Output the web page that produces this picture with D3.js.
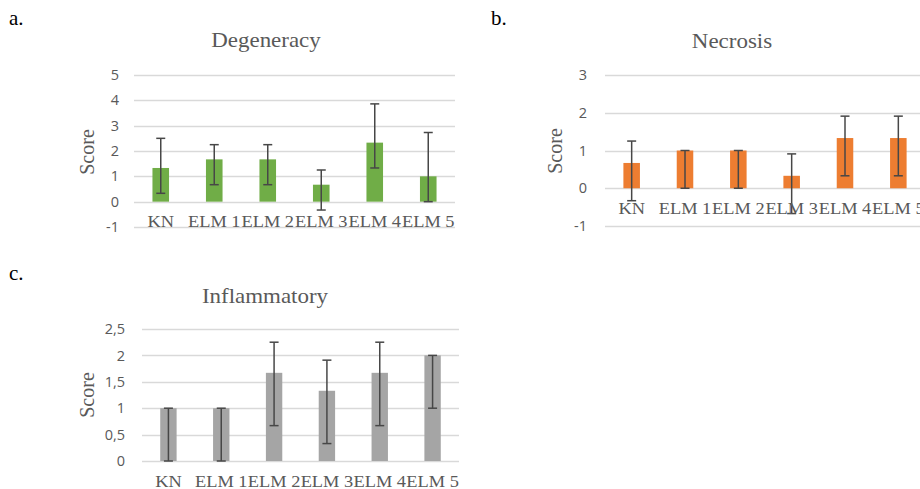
<!DOCTYPE html>
<html>
<head>
<meta charset="utf-8">
<script src="https://cdn.jsdelivr.net/npm/d3@7"></script>
<style>
  body { margin: 0; background: #fff; }
  svg { display: block; }
  .serif { font-family: "Liberation Serif", "Times New Roman", "DejaVu Serif", serif; }
  .sans { font-family: "Open Sans", "DejaVu Sans", sans-serif; }
</style>
</head>
<body>
<svg id="chart" width="920" height="489"></svg>
<script>
// kategorien, gleich fuer alle drei panels
var categories = ["KN", "ELM 1", "ELM 2", "ELM 3", "ELM 4", "ELM 5"];

// mittelwerte
var degeneracy = [1.33, 1.67, 1.67, 0.67, 2.33, 1.0];
var necrosis = [0.67, 1.0, 1.0, 0.33, 1.33, 1.33];
var inflammatory = [1.0, 1.0, 1.67, 1.33, 1.67, 2.0];

// fehlerbalken nach oben / nach unten
var degeneracyPlus = [1.17, 0.58, 0.58, 0.58, 1.53, 1.73];
var degeneracyMinus = [1, 1, 1, 1, 1, 1];
var necrosisPlus = [0.58, 0, 0, 0.58, 0.58, 0.58];
var necrosisMinus = [1, 1, 1, 1, 1, 1];
var inflammatoryPlus = [0, 0, 0.58, 0.58, 0.58, 0];
var inflammatoryMinus = [1, 1, 1, 1, 1, 1];

// y-achsen ticks
var degeneracyTicks = [-1, 0, 1, 2, 3, 4, 5];
var necrosisTicks = [-1, 0, 1, 2, 3];
var inflammatoryTicks = [0, 0.5, 1, 1.5, 2, 2.5];

var textGrey = "#595959";

var svg = d3.select("#chart");

function drawPanel(p) {
    var g = svg.append("g");

    var x = d3.scaleBand()
              .domain(categories)
              .range([p.left, p.right])
              .paddingInner(0.69)
              .paddingOuter(0.345);
    var y = d3.scaleLinear()
              .domain([p.ticks[0], p.ticks[p.ticks.length - 1]])
              .range([p.bottom, p.top]);

    // panel buchstabe
    svg.append("text")
       .attr("class", "serif")
       .attr("x", p.letterX)
       .attr("y", p.letterY)
       .attr("font-size", 21)
       .attr("fill", "#000")
       .text(p.letter);

    // titel, etwas breit gezogen wie im original
    g.append("text")
     .attr("class", "serif")
     .attr("transform", "translate(" + p.titleX + "," + p.titleY + ")scale(1.12,1)")
     .attr("text-anchor", "middle")
     .attr("font-size", 20.5)
     .attr("fill", textGrey)
     .text(p.title);

    // gitterlinien
    g.selectAll(".grid")
     .data(p.ticks)
     .enter()
     .append("line")
     .attr("x1", p.left)
     .attr("x2", p.right)
     .attr("y1", function(d) { return Math.round(y(d)) + 0.5; })
     .attr("y2", function(d) { return Math.round(y(d)) + 0.5; })
     .style("stroke", "#d9d9d9")
     .style("stroke-width", 1.3);

    // y achse, nur beschriftung
    var yAxis = g.append("g")
       .attr("transform", "translate(" + p.tickRight + ",0)")
       .call(d3.axisLeft(y)
               .tickValues(p.ticks)
               .tickSize(0)
               .tickPadding(0)
               .tickFormat(function(d) { return String(d).replace(".", ","); }));
    yAxis.select(".domain").remove();
    yAxis.attr("font-family", null).attr("font-size", null);
    yAxis.selectAll("text")
         .attr("class", "sans")
         .attr("font-size", 14.5)
         .attr("fill", textGrey);

    // y achsentitel
    g.append("text")
     .attr("class", "serif")
     .attr("transform", "translate(" + p.scoreX + "," + p.scoreY + ")rotate(-90)")
     .attr("text-anchor", "middle")
     .attr("dy", "0.35em")
     .attr("font-size", 20)
     .attr("fill", textGrey)
     .text("Score");

    var rows = categories.map(function(c, i) {
        return { cat: c, v: p.values[i], plus: p.plus[i], minus: p.minus[i] };
    });

    // balken
    g.selectAll(".bar")
     .data(rows)
     .enter()
     .append("rect")
     .attr("class", "bar")
     .attr("x", function(d) { return x(d.cat); })
     .attr("width", x.bandwidth())
     .attr("y", function(d) { return y(d.v); })
     .attr("height", function(d) { return y(0) - y(d.v); })
     .style("fill", p.color);

    // fehlerbalken
    var err = g.selectAll(".err")
     .data(rows)
     .enter()
     .append("g")
     .attr("transform", function(d) { return "translate(" + (x(d.cat) + x.bandwidth() / 2) + ",0)"; })
     .style("stroke", "#474747")
     .style("stroke-width", 1.5);
    err.append("line")
       .attr("y1", function(d) { return y(d.v + d.plus); })
       .attr("y2", function(d) { return y(d.v - d.minus); });
    err.append("line")
       .attr("x1", -4.5).attr("x2", 4.5)
       .attr("y1", function(d) { return y(d.v + d.plus); })
       .attr("y2", function(d) { return y(d.v + d.plus); });
    err.append("line")
       .attr("x1", -4.5).attr("x2", 4.5)
       .attr("y1", function(d) { return y(d.v - d.minus); })
       .attr("y2", function(d) { return y(d.v - d.minus); });

    // kategorien unter der null-linie
    g.selectAll(".cat")
     .data(categories)
     .enter()
     .append("text")
     .attr("class", "serif")
     .attr("transform", function(d) {
         return "translate(" + (x(d) + x.bandwidth() / 2) + "," + (y(0) + 25.5) + ")scale(1.05,1)";
     })
     .attr("text-anchor", "middle")
     .attr("font-size", 17.5)
     .attr("fill", textGrey)
     .text(function(d) { return d; });
}

drawPanel({
    letter: "a.", letterX: 9, letterY: 25,
    title: "Degeneracy", titleX: 266, titleY: 47,
    left: 134, right: 455, top: 75, bottom: 227,
    ticks: degeneracyTicks, tickRight: 119, scoreX: 87, scoreY: 152,
    values: degeneracy, plus: degeneracyPlus, minus: degeneracyMinus,
    color: "#70ad47"
});

drawPanel({
    letter: "b.", letterX: 491, letterY: 25,
    title: "Necrosis", titleX: 732, titleY: 48,
    left: 605, right: 925, top: 75, bottom: 226,
    ticks: necrosisTicks, tickRight: 587, scoreX: 555, scoreY: 151,
    values: necrosis, plus: necrosisPlus, minus: necrosisMinus,
    color: "#ed7d31"
});

drawPanel({
    letter: "c.", letterX: 9, letterY: 280,
    title: "Inflammatory", titleX: 265, titleY: 303,
    left: 142, right: 459, top: 329, bottom: 461,
    ticks: inflammatoryTicks, tickRight: 125, scoreX: 87, scoreY: 395,
    values: inflammatory, plus: inflammatoryPlus, minus: inflammatoryMinus,
    color: "#a5a5a5"
});
</script>
</body>
</html>
